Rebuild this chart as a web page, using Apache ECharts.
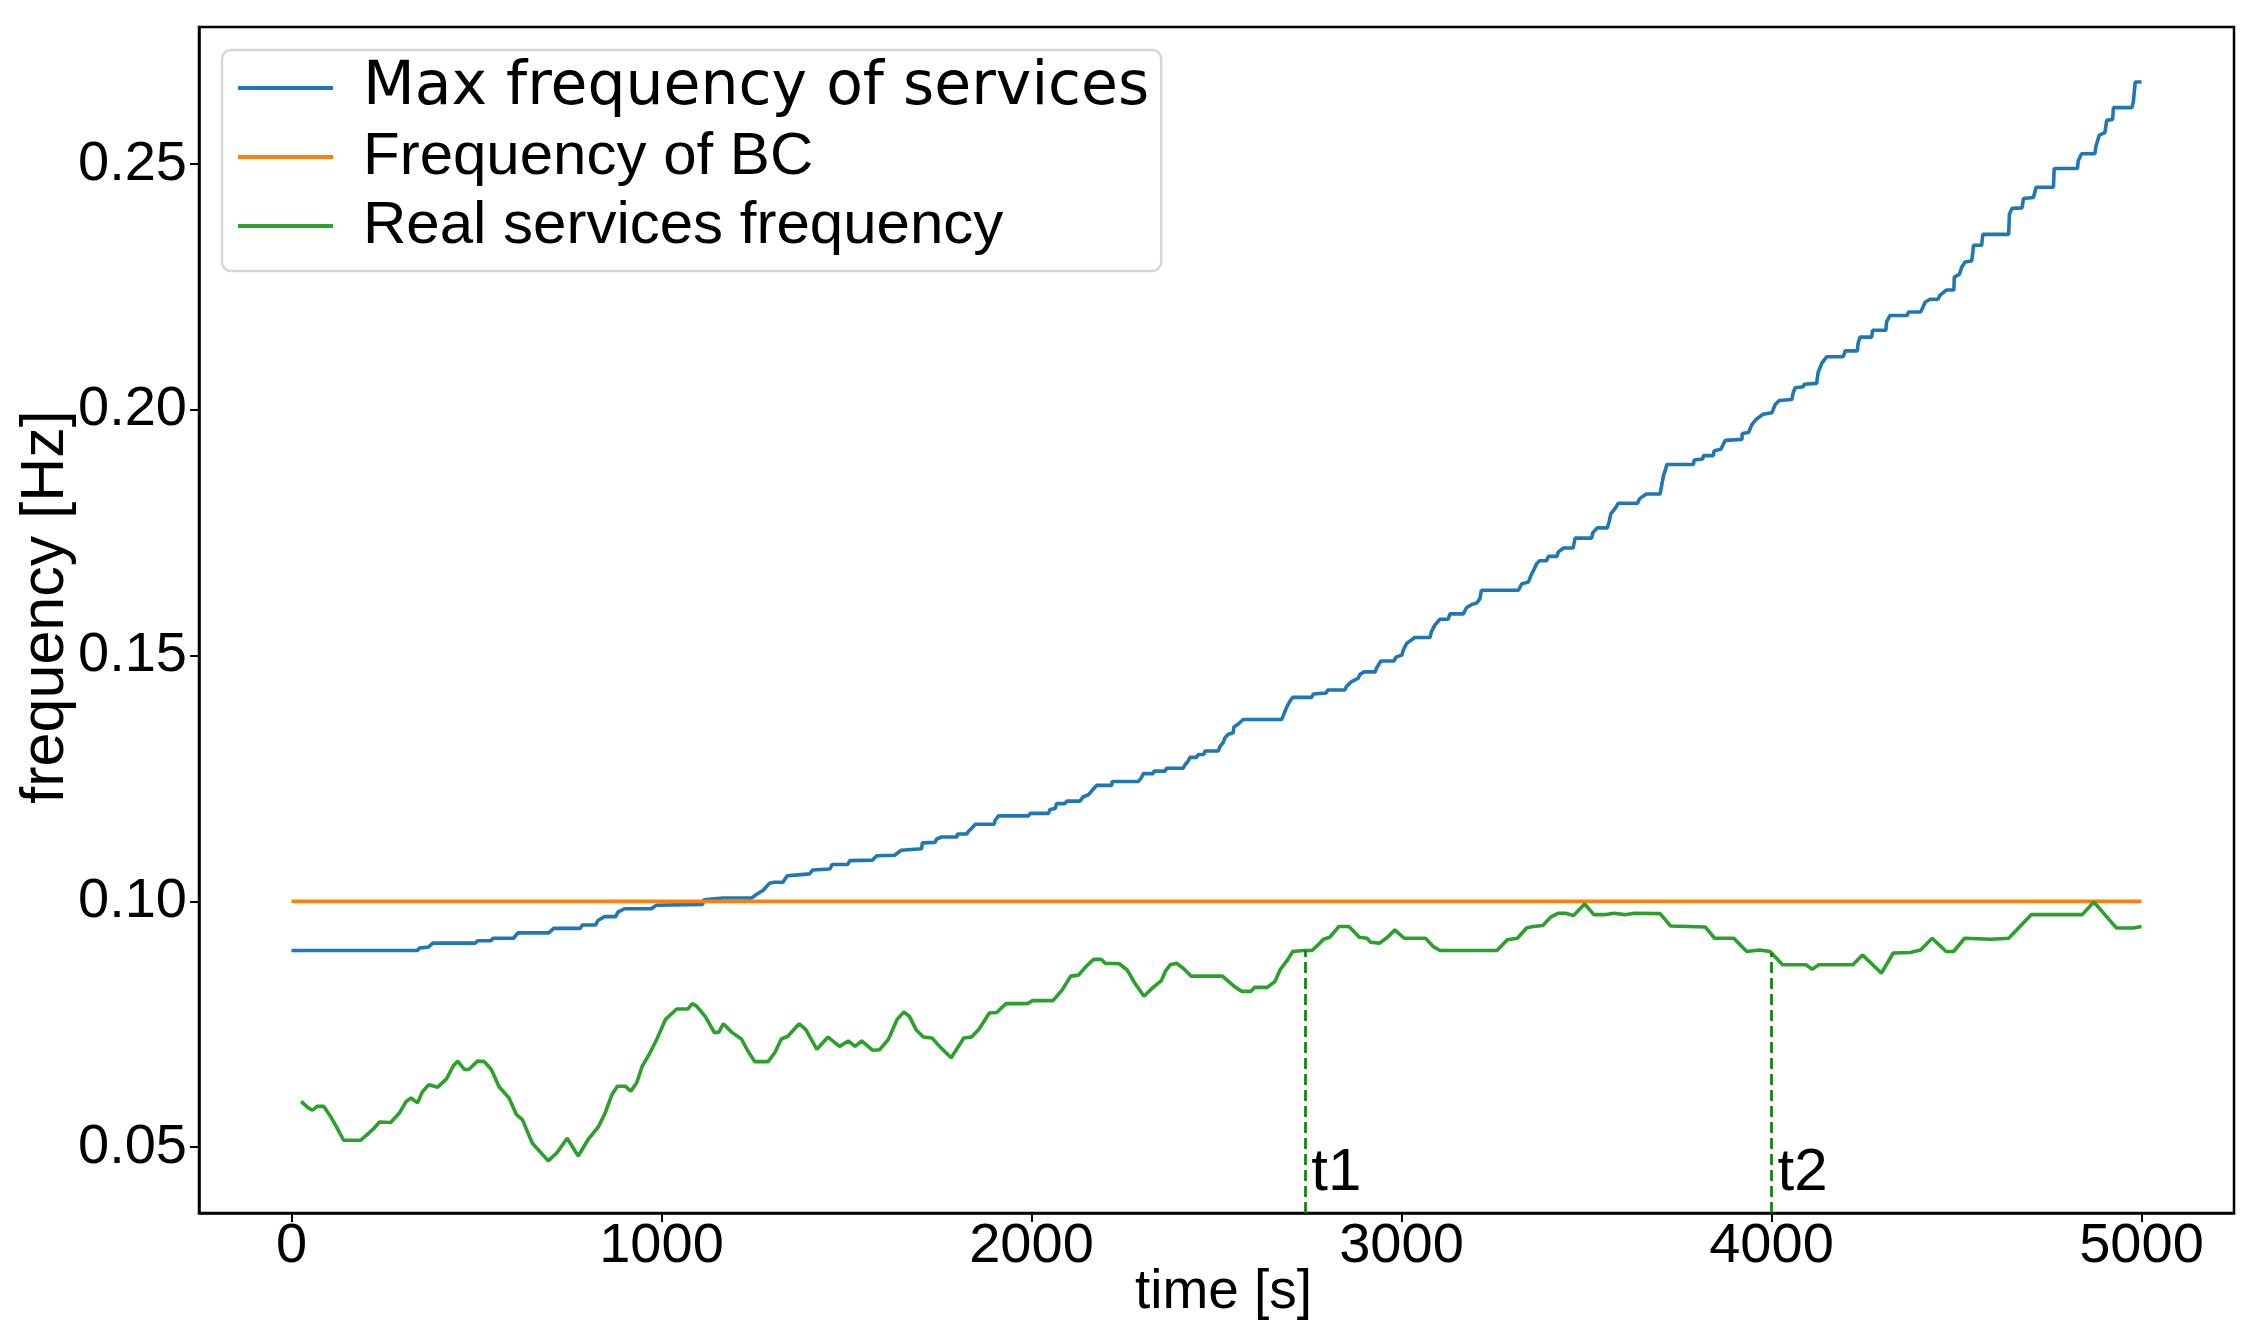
<!DOCTYPE html>
<html>
<head>
<meta charset="utf-8">
<script src="https://cdn.jsdelivr.net/npm/echarts@6/dist/echarts.min.js"></script>
<style>
  html, body { margin: 0; padding: 0; background: #fff; }
  #chart { width: 2266px; height: 1339px; }
</style>
</head>
<body>
<div id="chart"></div>
<script>
// ---------------- data ----------------
const seriesNames = ['Max frequency of services', 'Frequency of BC', 'Real services frequency'];

const timeTicks = [0, 1000, 2000, 3000, 4000, 5000];
const freqTicks = [0.05, 0.10, 0.15, 0.20, 0.25];

// Max frequency of services (staircase)
const maxFreqTime = [0,340,346,370,382,497,503,539,545,600,612,696,708,780,786,822,828,846,876,882,900,973,985,1111,1115,1166,1244,1256,1274,1292,1304,1328,1340,1370,1400,1409,1455,1461,1503,1509,1570,1582,1630,1648,1703,1705,1739,1744,1757,1798,1800,1825,1830,1839,1848,1899,1902,1911,1992,1996,2046,2050,2064,2068,2091,2095,2131,2140,2154,2163,2176,2217,2218,2289,2298,2302,2329,2331,2361,2365,2410,2415,2424,2428,2446,2451,2466,2469,2505,2509,2518,2523,2532,2545,2547,2559,2572,2676,2680,2689,2698,2706,2757,2762,2797,2800,2847,2852,2865,2883,2888,2899,2929,2933,2944,2980,2985,3001,3005,3014,3036,3077,3081,3090,3104,3126,3131,3167,3176,3190,3203,3212,3216,3316,3325,3343,3352,3358,3365,3373,3392,3397,3420,3424,3438,3464,3469,3514,3517,3529,3556,3561,3566,3577,3586,3638,3643,3656,3663,3699,3703,3708,3714,3717,3789,3791,3814,3816,3843,3845,3863,3875,3920,3921,3938,3947,3959,3977,4001,4010,4021,4055,4059,4064,4086,4088,4122,4126,4136,4149,4194,4199,4232,4234,4239,4271,4273,4309,4311,4320,4367,4370,4403,4410,4415,4428,4450,4455,4473,4493,4494,4508,4514,4523,4541,4544,4546,4568,4571,4641,4643,4650,4677,4681,4708,4715,4762,4764,4827,4829,4838,4874,4877,4886,4901,4906,4922,4924,4974,4978,4983,5000];
const maxFreqValue = [0.0900,0.0900,0.0905,0.0907,0.0915,0.0915,0.0920,0.0920,0.0925,0.0925,0.0936,0.0936,0.0945,0.0945,0.0952,0.0952,0.0961,0.0969,0.0969,0.0978,0.0985,0.0985,0.0992,0.0994,0.1003,0.1007,0.1007,0.1014,0.1022,0.1037,0.1039,0.1039,0.1052,0.1054,0.1056,0.1064,0.1066,0.1075,0.1075,0.1083,0.1084,0.1093,0.1094,0.1104,0.1107,0.1119,0.1120,0.1127,0.1131,0.1131,0.1137,0.1137,0.1143,0.1149,0.1157,0.1157,0.1165,0.1174,0.1174,0.1179,0.1179,0.1187,0.1189,0.1199,0.1199,0.1204,0.1204,0.1213,0.1217,0.1225,0.1236,0.1236,0.1244,0.1244,0.1253,0.1260,0.1260,0.1265,0.1265,0.1271,0.1271,0.1278,0.1286,0.1293,0.1293,0.1299,0.1299,0.1306,0.1306,0.1315,0.1323,0.1333,0.1340,0.1343,0.1355,0.1361,0.1370,0.1370,0.1377,0.1394,0.1407,0.1415,0.1415,0.1422,0.1424,0.1430,0.1430,0.1438,0.1447,0.1454,0.1462,0.1467,0.1467,0.1475,0.1489,0.1489,0.1497,0.1501,0.1512,0.1525,0.1537,0.1537,0.1549,0.1562,0.1574,0.1574,0.1585,0.1585,0.1598,0.1604,0.1607,0.1616,0.1633,0.1633,0.1646,0.1650,0.1667,0.1675,0.1687,0.1693,0.1693,0.1702,0.1702,0.1711,0.1719,0.1719,0.1739,0.1739,0.1750,0.1760,0.1760,0.1772,0.1789,0.1799,0.1810,0.1810,0.1819,0.1826,0.1829,0.1829,0.1846,0.1866,0.1880,0.1889,0.1889,0.1898,0.1900,0.1907,0.1907,0.1917,0.1920,0.1938,0.1940,0.1952,0.1954,0.1970,0.1981,0.1991,0.1994,0.2011,0.2019,0.2021,0.2036,0.2045,0.2047,0.2052,0.2054,0.2076,0.2095,0.2108,0.2108,0.2120,0.2120,0.2135,0.2148,0.2148,0.2162,0.2162,0.2179,0.2192,0.2192,0.2199,0.2199,0.2210,0.2219,0.2225,0.2225,0.2233,0.2244,0.2244,0.2270,0.2276,0.2290,0.2301,0.2303,0.2320,0.2335,0.2335,0.2357,0.2357,0.2398,0.2410,0.2411,0.2430,0.2432,0.2453,0.2453,0.2491,0.2491,0.2507,0.2521,0.2521,0.2537,0.2559,0.2564,0.2589,0.2591,0.2615,0.2615,0.2627,0.2667,0.2667];

// Frequency of BC (constant)
const bcTime = [0, 5000];
const bcValue = [0.1, 0.1];

// Real services frequency
const realTime = [26,45,57,69,87,105,123,141,187,202,220,238,268,292,310,323,341,353,371,395,419,437,449,467,479,503,521,540,561,588,608,624,651,694,718,745,775,803,830,848,866,881,902,917,933,948,969,987,1011,1041,1071,1083,1095,1119,1143,1155,1167,1191,1216,1234,1252,1288,1306,1324,1342,1372,1390,1420,1450,1481,1505,1523,1541,1571,1589,1613,1637,1655,1670,1688,1708,1731,1754,1783,1817,1838,1858,1886,1906,1931,1989,2003,2058,2083,2106,2127,2148,2168,2189,2199,2237,2258,2279,2304,2327,2351,2362,2375,2392,2410,2431,2516,2548,2568,2593,2603,2637,2658,2672,2692,2706,2734,2758,2775,2789,2806,2831,2858,2886,2907,2916,2941,2962,2982,3007,3065,3086,3104,3258,3286,3313,3338,3355,3382,3403,3424,3444,3465,3495,3520,3548,3575,3603,3630,3699,3727,3775,3821,3846,3898,3933,3967,3996,4030,4093,4110,4128,4220,4246,4297,4329,4375,4403,4434,4472,4492,4522,4593,4641,4702,4840,4871,4932,4978,5000];
const realValue = [0.0593,0.0580,0.0575,0.0583,0.0583,0.0563,0.0539,0.0514,0.0514,0.0524,0.0536,0.0551,0.0550,0.0570,0.0593,0.0600,0.0590,0.0612,0.0627,0.0622,0.0639,0.0665,0.0675,0.0658,0.0658,0.0675,0.0674,0.0658,0.0623,0.0600,0.0566,0.0556,0.0508,0.0472,0.0489,0.0518,0.0482,0.0517,0.0542,0.0570,0.0607,0.0624,0.0624,0.0614,0.0631,0.0665,0.0692,0.0719,0.0760,0.0781,0.0781,0.0792,0.0787,0.0765,0.0733,0.0734,0.0751,0.0733,0.0720,0.0695,0.0674,0.0674,0.0692,0.0720,0.0726,0.0751,0.0739,0.0699,0.0724,0.0705,0.0716,0.0705,0.0716,0.0697,0.0698,0.0719,0.0760,0.0775,0.0766,0.0739,0.0724,0.0722,0.0703,0.0682,0.0722,0.0724,0.0740,0.0773,0.0774,0.0792,0.0792,0.0798,0.0798,0.0820,0.0848,0.0850,0.0868,0.0882,0.0882,0.0874,0.0873,0.0861,0.0834,0.0807,0.0824,0.0839,0.0858,0.0871,0.0874,0.0864,0.0848,0.0848,0.0827,0.0817,0.0817,0.0825,0.0825,0.0837,0.0861,0.0881,0.0898,0.0900,0.0900,0.0912,0.0923,0.0927,0.0949,0.0949,0.0927,0.0925,0.0917,0.0915,0.0927,0.0942,0.0925,0.0925,0.0908,0.0900,0.0900,0.0922,0.0925,0.0946,0.0949,0.0951,0.0968,0.0976,0.0976,0.0971,0.0995,0.0973,0.0973,0.0976,0.0973,0.0976,0.0975,0.0950,0.0949,0.0948,0.0925,0.0925,0.0898,0.0901,0.0898,0.0871,0.0871,0.0862,0.0871,0.0871,0.0891,0.0854,0.0895,0.0896,0.0901,0.0925,0.0898,0.0898,0.0925,0.0923,0.0925,0.0973,0.0973,0.0999,0.0946,0.0946,0.0949];

// event markers
const eventLabels = ['t1', 't2'];
const eventTimes = [2740, 4000];
const eventLevels = [0.0900, 0.0895];
const eventLabelLevel = 0.0447;

// axis extents
const xMin = -250, xMax = 5250;
const yMin = 0.0366, yMax = 0.2779;

// ---------------- chart ----------------
const zip = (a, b) => a.map((v, i) => [v, b[i]]);
const colors = ['#1f77b4', '#ff7f0e', '#2ca02c'];
const mainFont = "'Liberation Sans', Arial, sans-serif";

const chart = echarts.init(document.getElementById('chart'), null, { renderer: 'canvas' });

const option = {
  animation: false,
  backgroundColor: '#ffffff',
  grid: {
    left: 199, right: 32, top: 27, bottom: 126,
    outerBoundsMode: 'none', containLabel: false,
    show: true, borderColor: '#000', borderWidth: 2.5, backgroundColor: 'transparent'
  },
  legend: {
    orient: 'vertical',
    left: 222, top: 50,
    padding: [7, 12, 14, 16],
    itemGap: 7,
    itemWidth: 120, itemHeight: 4,
    icon: 'path://M0,0L95,0L95,4L0,4Z M120,0L120,4',
    backgroundColor: 'rgba(255,255,255,0.8)',
    borderColor: '#d6d6d6', borderWidth: 2.5, borderRadius: 9,
    selectedMode: false,
    textStyle: { fontFamily: mainFont, fontSize: 60, lineHeight: 62, color: '#000' },
    data: [
      { name: seriesNames[0], textStyle: { fontFamily: "'DejaVu Sans', sans-serif", fontSize: 60, lineHeight: 62 } },
      { name: seriesNames[1] },
      { name: seriesNames[2] }
    ]
  },
  xAxis: {
    type: 'value', min: xMin, max: xMax,
    name: 'time [s]', nameLocation: 'middle', nameGap: 52, nameMoveOverlap: false,
    nameTextStyle: { fontFamily: mainFont, fontSize: 55, color: '#000', padding: [0, 0, 0, 14] },
    axisLine: { show: true, onZero: false, lineStyle: { color: '#000', width: 2.5 } },
    axisTick: { show: true, inside: false, length: 9, lineStyle: { color: '#000', width: 2 }, customValues: timeTicks },
    axisLabel: { show: true, margin: 6, fontFamily: mainFont, fontSize: 56, color: '#000', customValues: timeTicks,
                 formatter: v => String(v) },
    splitLine: { show: false }
  },
  yAxis: {
    type: 'value', min: yMin, max: yMax,
    name: 'frequency [Hz]', nameLocation: 'middle', nameGap: 122, nameMoveOverlap: false,
    nameTextStyle: { fontFamily: mainFont, fontSize: 61, color: '#000', padding: [0, 0, 0, 26] },
    axisLine: { show: true, onZero: false, lineStyle: { color: '#000', width: 2.5 } },
    axisTick: { show: true, inside: false, length: 9, lineStyle: { color: '#000', width: 2 }, customValues: freqTicks },
    axisLabel: { show: true, margin: 12, fontFamily: mainFont, fontSize: 56, color: '#000', customValues: freqTicks,
                 formatter: v => v.toFixed(2) },
    splitLine: { show: false }
  },
  series: [
    {
      name: seriesNames[0], type: 'line', data: zip(maxFreqTime, maxFreqValue),
      symbol: 'none', color: colors[0], lineStyle: { color: colors[0], width: 3.6 }, z: 2
    },
    {
      name: seriesNames[1], type: 'line', data: zip(bcTime, bcValue),
      symbol: 'none', color: colors[1], lineStyle: { color: colors[1], width: 3.6 }, z: 3
    },
    {
      name: seriesNames[2], type: 'line', data: zip(realTime, realValue),
      symbol: 'none', color: colors[2], lineStyle: { color: colors[2], width: 3.6 }, z: 4,
      markLine: {
        silent: true, symbol: ['none', 'none'], animation: false,
        label: { show: false },
        lineStyle: { color: '#008000', type: [11, 5], width: 2.6 },
        data: eventTimes.map((t, i) => [{ coord: [t, yMin] }, { coord: [t, eventLevels[i]] }])
      }
    },
    {
      name: 'events', type: 'scatter', silent: true, z: 5,
      symbol: 'circle', symbolSize: 0, itemStyle: { color: '#000', opacity: 1 },
      data: eventTimes.map((t, i) => ({ value: [t, eventLabelLevel], label: { formatter: eventLabels[i], color: '#000' } })),
      label: { show: true, position: 'right', distance: 6, fontFamily: mainFont, fontSize: 60, color: '#000', opacity: 1 }
    }
  ]
};

chart.setOption(option);
</script>
</body>
</html>
